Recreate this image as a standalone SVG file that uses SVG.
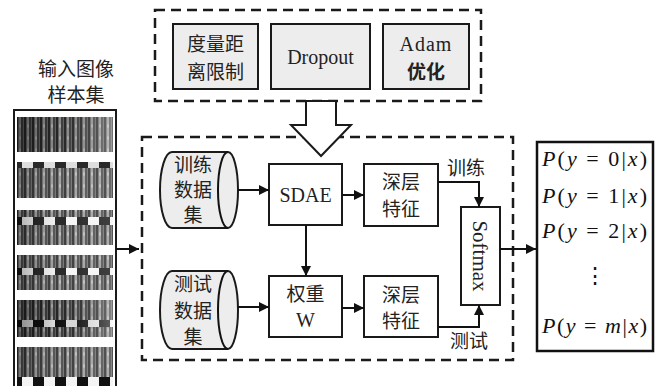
<svg xmlns="http://www.w3.org/2000/svg" width="663" height="386" viewBox="0 0 663 386">
<style>
.box{fill:#ffffff;stroke:#1a1a1a;stroke-width:2}
.gbox{fill:#ededed;stroke:#1a1a1a;stroke-width:2}
.dash{fill:none;stroke:#1a1a1a;stroke-width:2.5;stroke-dasharray:10 6}
.ln{fill:none;stroke:#111;stroke-width:2}
.zh{font-family:"Noto Sans CJK SC","Noto Sans",sans-serif;font-size:19px;fill:#222;text-anchor:middle}
.en{font-family:"Liberation Serif","Times New Roman",serif;font-size:20px;fill:#222;text-anchor:middle}
.math{font-family:"Liberation Serif","Times New Roman",serif;font-size:22px;fill:#111}
.it{font-style:italic}
</style>
<defs>
<marker id="ah" viewBox="0 0 10 10" refX="10" refY="5" markerWidth="10" markerHeight="10" markerUnits="userSpaceOnUse" orient="auto">
<path d="M0,0 L10,5 L0,10 Z" fill="#111"/>
</marker>
<pattern id="tex" width="8" height="12" patternUnits="userSpaceOnUse">
<rect x="0" y="0" width="8" height="12" fill="#6a6a6a"/>
<rect x="0" y="0" width="2" height="12" fill="#2a2a2a"/>
<rect x="3" y="0" width="2" height="12" fill="#9a9a9a"/>
<rect x="5" y="0" width="2" height="12" fill="#444"/>
<ellipse cx="4" cy="6" rx="1" ry="2" fill="#bbb"/>
</pattern>
<pattern id="chk" width="22" height="8" patternUnits="userSpaceOnUse">
<rect x="0" y="0" width="11" height="8" fill="#f4f4f4"/>
<rect x="11" y="0" width="11" height="8" fill="#111"/>
</pattern>
<linearGradient id="fadeL" x1="0" y1="0" x2="1" y2="0">
<stop offset="0" stop-color="#000" stop-opacity="0.45"/>
<stop offset="0.4" stop-color="#000" stop-opacity="0.1"/>
<stop offset="1" stop-color="#fff" stop-opacity="0.35"/>
</linearGradient>
<linearGradient id="fadeM" x1="0" y1="0" x2="1" y2="0">
<stop offset="0" stop-color="#000" stop-opacity="0.3"/>
<stop offset="0.5" stop-color="#fff" stop-opacity="0.1"/>
<stop offset="1" stop-color="#fff" stop-opacity="0.2"/>
</linearGradient>
</defs>

<!-- input image sample set -->
<g id="input-images">
<text class="zh" x="76" y="76">输入图像</text>
<text class="zh" x="76" y="102">样本集</text>
<rect x="14" y="110" width="102" height="290" fill="#fff" stroke="#1a1a1a" stroke-width="2"/>
<rect x="17" y="117" width="96" height="35" fill="url(#tex)"/>
<rect x="17" y="117" width="96" height="35" fill="url(#fadeL)"/>
<rect x="17" y="162" width="96" height="6" fill="#888"/>
<rect x="17" y="162" width="96" height="6" fill="url(#chk)" opacity="0.8"/>
<rect x="17" y="168" width="96" height="30" fill="url(#tex)"/>
<rect x="17" y="168" width="96" height="30" fill="url(#fadeM)"/>
<rect x="17" y="210" width="96" height="7" fill="url(#tex)"/>
<rect x="17" y="217" width="96" height="8" fill="url(#chk)"/>
<rect x="17" y="225" width="96" height="20" fill="url(#tex)"/>
<rect x="17" y="210" width="96" height="35" fill="url(#fadeM)"/>
<rect x="17" y="255" width="96" height="13" fill="url(#tex)"/>
<rect x="17" y="268" width="96" height="7" fill="url(#chk)"/>
<rect x="17" y="275" width="96" height="15" fill="url(#tex)"/>
<rect x="17" y="255" width="96" height="35" fill="url(#fadeM)"/>
<rect x="17" y="300" width="96" height="20" fill="url(#tex)"/>
<rect x="17" y="320" width="96" height="7" fill="url(#chk)"/>
<rect x="17" y="327" width="96" height="10" fill="url(#tex)"/>
<rect x="17" y="300" width="96" height="37" fill="url(#fadeL)"/>
<rect x="17" y="347" width="96" height="30" fill="url(#tex)"/>
<rect x="17" y="347" width="96" height="30" fill="url(#fadeM)"/>
<rect x="17" y="377" width="96" height="9" fill="url(#chk)"/>
</g>

<!-- top dashed group -->
<g id="regularization">
<rect class="dash" x="155" y="10" width="326" height="91"/>
</g>
<g id="metric-limit">
<rect class="gbox" x="173" y="24" width="85" height="65"/>
<text class="zh" x="215.5" y="51">度量距</text>
<text class="zh" x="215.5" y="79">离限制</text>
</g>
<g id="dropout">
<rect class="gbox" x="271" y="24" width="99" height="65"/>
<text class="en" x="320.5" y="64">Dropout</text>
</g>
<g id="adam">
<rect class="gbox" x="383" y="24" width="86" height="65"/>
<text class="en" x="426" y="51" letter-spacing="1">Adam</text>
<text class="zh" x="426" y="79" style="font-weight:bold">优化</text>
</g>

<!-- main dashed box -->
<g id="main-frame">
<rect class="dash" x="142" y="137" width="371" height="223"/>
</g>

<!-- big hollow arrow -->
<g id="hollow-arrow">
<polygon points="306,101 336,101 336,125 351,125 321,156 291,125 306,125" fill="#fff" stroke="#1a1a1a" stroke-width="2" stroke-linejoin="miter"/>
</g>

<g id="train-data">
<path class="gbox" d="M172,152 H228 A10,38 0 0 1 228,228 H172 A12,38 0 0 1 172,152 Z"/>
<path class="ln" d="M228,152 A10,38 0 0 0 228,228"/>
<text class="zh" x="193" y="172">训练</text>
<text class="zh" x="193" y="197">数据</text>
<text class="zh" x="193" y="222">集</text>
</g>
<g id="test-data">
<path class="gbox" d="M172,271 H228 A10,39 0 0 1 228,349 H172 A12,39 0 0 1 172,271 Z"/>
<path class="ln" d="M228,271 A10,39 0 0 0 228,349"/>
<text class="zh" x="193" y="291">测试</text>
<text class="zh" x="193" y="318">数据</text>
<text class="zh" x="193" y="344">集</text>
</g>

<g id="sdae">
<rect class="box" x="269" y="164" width="73" height="61"/>
<text class="en" x="305.5" y="202">SDAE</text>
</g>
<g id="weights">
<rect class="box" x="269" y="276" width="73" height="61"/>
<text class="zh" x="305.5" y="301">权重</text>
<text class="en" x="305.5" y="327">W</text>
</g>
<g id="deep-feature-train">
<rect class="box" x="364" y="164" width="74" height="62"/>
<text class="zh" x="401" y="189">深层</text>
<text class="zh" x="401" y="216">特征</text>
</g>
<g id="deep-feature-test">
<rect class="box" x="364" y="276" width="74" height="61"/>
<text class="zh" x="401" y="302">深层</text>
<text class="zh" x="401" y="328">特征</text>
</g>
<g id="softmax">
<rect class="box" x="461" y="207" width="39" height="98"/>
<text class="en" x="0" y="0" transform="translate(480,256) rotate(90)" dy="7" style="font-size:21px">Softmax</text>
</g>

<g id="output">
<rect x="537" y="142" width="116" height="209" fill="#fff" stroke="#111" stroke-width="2.5"/>
<text class="math" x="542" y="166" textLength="105" lengthAdjust="spacing"><tspan class="it">P</tspan>(<tspan class="it">y</tspan> = 0|<tspan class="it">x</tspan>)</text>
<text class="math" x="542" y="203" textLength="105" lengthAdjust="spacing"><tspan class="it">P</tspan>(<tspan class="it">y</tspan> = 1|<tspan class="it">x</tspan>)</text>
<text class="math" x="542" y="238" textLength="105" lengthAdjust="spacing"><tspan class="it">P</tspan>(<tspan class="it">y</tspan> = 2|<tspan class="it">x</tspan>)</text>
<text class="math" x="595" y="283" text-anchor="middle">⋮</text>
<text class="math" x="542" y="333" textLength="105" lengthAdjust="spacing"><tspan class="it">P</tspan>(<tspan class="it">y</tspan> = <tspan class="it">m</tspan>|<tspan class="it">x</tspan>)</text>
</g>

<g id="connectors">
<line class="ln" x1="116" y1="249" x2="139" y2="249" marker-end="url(#ah)"/>
<line class="ln" x1="238" y1="190" x2="269" y2="190" marker-end="url(#ah)"/>
<line class="ln" x1="238" y1="307" x2="269" y2="307" marker-end="url(#ah)"/>
<line class="ln" x1="342" y1="195" x2="364" y2="195" marker-end="url(#ah)"/>
<line class="ln" x1="342" y1="308" x2="364" y2="308" marker-end="url(#ah)"/>
<line class="ln" x1="306" y1="225" x2="306" y2="276" marker-end="url(#ah)"/>
<polyline class="ln" points="438,182 479,182 479,207" marker-end="url(#ah)"/>
<polyline class="ln" points="438,327 479,327 479,305" marker-end="url(#ah)"/>
<line class="ln" x1="500" y1="249" x2="536" y2="249" marker-end="url(#ah)"/>
<text class="zh" x="466" y="175">训练</text>
<text class="zh" x="469" y="348">测试</text>
</g>
</svg>
